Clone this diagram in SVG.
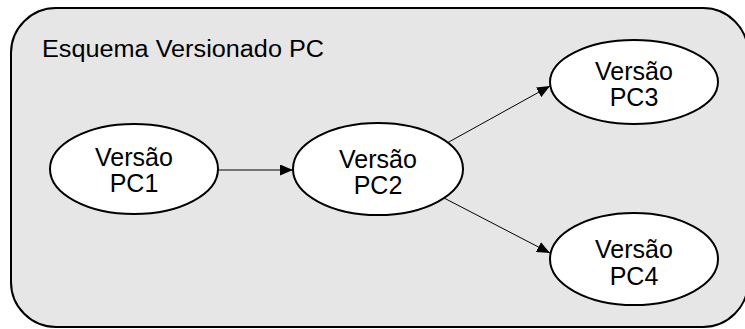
<svg xmlns="http://www.w3.org/2000/svg" width="745" height="329" viewBox="0 0 745 329">
  <style>
    .frame { fill: #e6e6e6; stroke: #000; stroke-width: 2; }
    .node { fill: #fff; stroke: #000; stroke-width: 2; }
    .lbl { font-family: "Liberation Sans", Arial, sans-serif; font-size: 25px; fill: #000; text-anchor: middle; }
    .title { font-family: "Liberation Sans", Arial, sans-serif; font-size: 23px; fill: #000; }
    .edge { stroke: #000; stroke-width: 1; fill: none; marker-end: url(#arrow); }
  </style>
  <defs>
    <marker id="arrow" viewBox="0 0 13 11" refX="13" refY="5.5" markerWidth="13" markerHeight="11" markerUnits="userSpaceOnUse" orient="auto">
      <path d="M0,0 L13,5.5 L0,11 Z" fill="#000"/>
    </marker>
  </defs>

  <rect width="745" height="329" fill="#fff"/>

  <!-- container -->
  <g id="schema">
    <rect class="frame" x="11" y="8" width="737" height="319" rx="45" ry="45"/>
    <text class="title" x="42" y="57" textLength="282" lengthAdjust="spacingAndGlyphs">Esquema Versionado PC</text>
  </g>

  <!-- connectors -->
  <g id="connectors">
    <line class="edge" x1="218" y1="170" x2="293" y2="170"/>
    <line class="edge" x1="447" y1="143" x2="550" y2="86"/>
    <line class="edge" x1="444" y1="198" x2="550" y2="253"/>
  </g>

  <!-- nodes -->
  <g id="pc1">
    <ellipse class="node" cx="134" cy="169" rx="84" ry="45"/>
    <text class="lbl" x="134" y="166">Versão</text>
    <text class="lbl" x="134" y="192">PC1</text>
  </g>
  <g id="pc2">
    <ellipse class="node" cx="378" cy="169" rx="85" ry="46"/>
    <text class="lbl" x="378" y="168">Versão</text>
    <text class="lbl" x="378" y="194">PC2</text>
  </g>
  <g id="pc3">
    <ellipse class="node" cx="634" cy="82" rx="84" ry="42"/>
    <text class="lbl" x="634" y="80">Versão</text>
    <text class="lbl" x="634" y="106">PC3</text>
  </g>
  <g id="pc4">
    <ellipse class="node" cx="634" cy="259" rx="84" ry="46"/>
    <text class="lbl" x="634" y="258">Versão</text>
    <text class="lbl" x="634" y="285">PC4</text>
  </g>
</svg>
